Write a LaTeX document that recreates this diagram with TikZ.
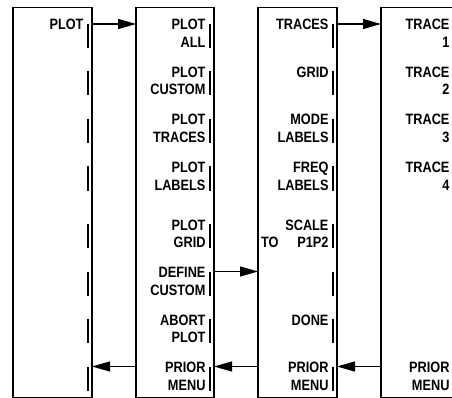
\documentclass[tikz,border=0pt]{standalone}
\usepackage{fontspec}
\setmainfont{Liberation Sans}[FakeStretch=0.85]
\usetikzlibrary{arrows.meta}
\begin{document}
\begin{tikzpicture}[x=1pt,y=-1pt,
  panel/.style={draw, line width=1.3pt, minimum width=#1, minimum height=390pt,
    anchor=north west, inner sep=0pt, outer sep=0pt},
  keytxt/.style={anchor=base east, inner sep=0pt, outer sep=0pt,
    font=\fontsize{15}{15}\selectfont\bfseries},
  keytxtl/.style={keytxt, anchor=base west},
  keybar/.style={line width=2pt},
  conn/.style={line width=1.3pt, -{Triangle[length=18pt,width=10pt]}},
]
\useasboundingbox (0,0) rectangle (452,398);
\def\kys{{30,77.5,125,172.5,230,277.5,325,372.5}}
% panels
\node[panel=79pt] (b1) at (13,7.5) {};
\node[panel=78pt] (b2) at (136,7.5) {};
\node[panel=79pt] (b3) at (258,7.5) {};
\node[panel=76pt] (b4) at (381,7.5) {};
% softkey bars
\foreach \xr/\bx in {92/b1,214/b2,337/b3,457/b4}{
  \foreach \i in {1,...,8}{
    \pgfmathsetmacro\yb{\kys[\i-1]}
    \draw[keybar] (\xr-4.5,\yb-6) -- (\xr-4.5,\yb+18);
  }
}
% panel 1
\node[keytxt] (t1a) at (83.5,30) {PLOT};
% panel 2
\foreach \i/\a/\b in {1/PLOT/ALL,2/PLOT/CUSTOM,3/PLOT/TRACES,4/PLOT/LABELS,
  5/PLOT/GRID,6/DEFINE/CUSTOM,7/ABORT/PLOT,8/PRIOR/MENU}{
  \pgfmathsetmacro\yb{\kys[\i-1]}
  \node[keytxt] (t2k\i a) at (205.5,\yb) {\a};
  \node[keytxt] (t2k\i b) at (205.5,\yb+17.5) {\b};
}
% panel 3
\foreach \i/\a in {1/TRACES,2/GRID,3/MODE,4/FREQ,5/SCALE,7/DONE,8/PRIOR}{
  \pgfmathsetmacro\yb{\kys[\i-1]}
  \node[keytxt] (t3k\i a) at (328.5,\yb) {\a};
}
\foreach \i/\b in {3/LABELS,4/LABELS,5/P1P2,8/MENU}{
  \pgfmathsetmacro\yb{\kys[\i-1]}
  \node[keytxt] (t3k\i b) at (328.5,\yb+17.5) {\b};
}
\node[keytxtl] (t3k5c) at (261,247.5) {TO};
% panel 4
\foreach \i/\b in {1/1,2/2,3/3,4/4}{
  \pgfmathsetmacro\yb{\kys[\i-1]}
  \node[keytxt] (t4k\i a) at (449.5,\yb) {TRACE};
  \node[keytxt] (t4k\i b) at (449.5,\yb+17.5) {\b};
}
\node[keytxt] (t4k8a) at (449.5,372.5) {PRIOR};
\node[keytxt] (t4k8b) at (449.5,390) {MENU};
% connector levels
\coordinate (k1) at (0,24);
\coordinate (k6) at (0,271.5);
\coordinate (k8) at (0,366.5);
% connectors
\draw[conn] (b1.east |- k1) -- (b2.west |- k1);
\draw[conn] (b3.east |- k1) -- (b4.west |- k1);
\draw[conn] (b2.east |- k6) -- (b3.west |- k6);
\draw[conn] (b2.west |- k8) -- (b1.east |- k8);
\draw[conn] (b3.west |- k8) -- (b2.east |- k8);
\draw[conn] (b4.west |- k8) -- (b3.east |- k8);
\end{tikzpicture}
\end{document}
